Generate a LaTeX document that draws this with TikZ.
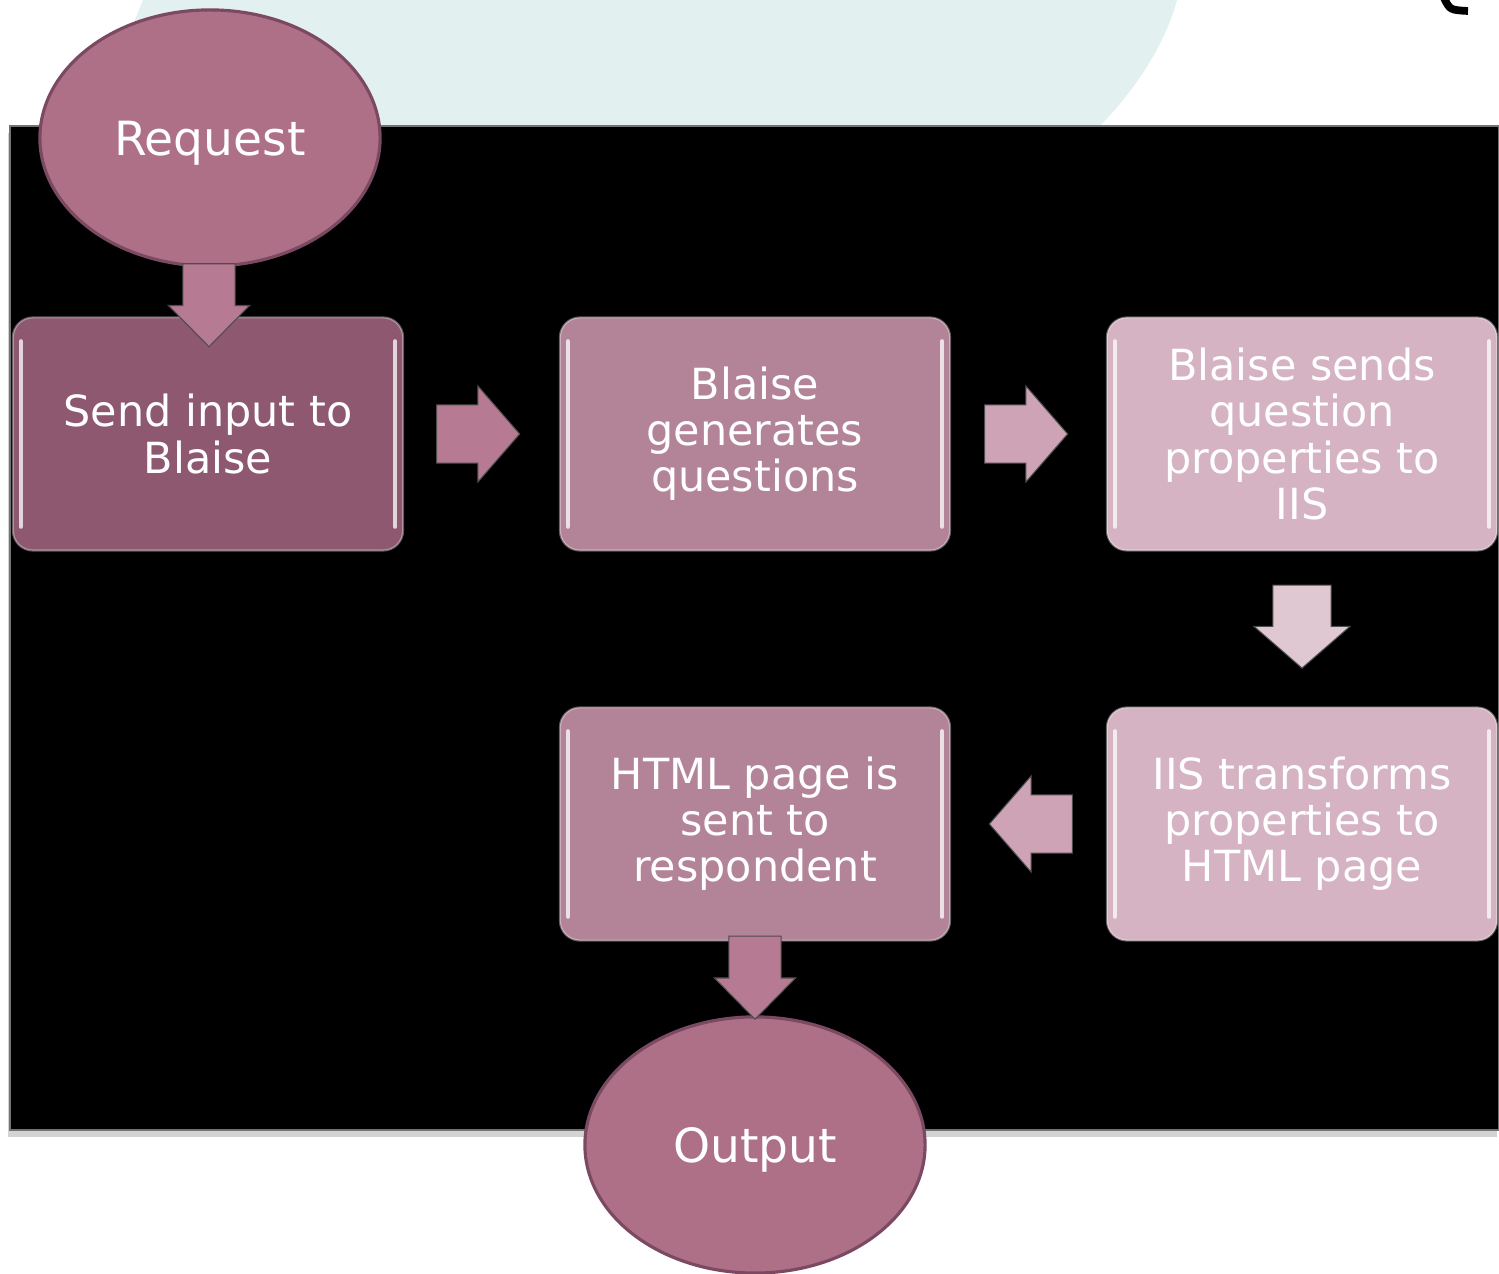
\documentclass[tikz,border=0pt]{standalone}
\usepackage{fontspec}
\setmainfont{DejaVu Sans}
\usetikzlibrary{shapes.geometric}
\usetikzlibrary{shapes.arrows}
\usetikzlibrary{shadows}
\usetikzlibrary{calc}
\definecolor{tealbg}{HTML}{E3F0F0}
\definecolor{mauve}{HTML}{AE7087}
\definecolor{mauveline}{HTML}{7B4A62}
\definecolor{boxdark}{HTML}{8E5870}
\definecolor{boxmid}{HTML}{B38497}
\definecolor{boxlight}{HTML}{D5B3C2}
\definecolor{arrowdark}{HTML}{B67A93}
\definecolor{arrowmid}{HTML}{CEA3B5}
\definecolor{arrowlight}{HTML}{E0C8D2}
\tikzset{
	flownode/.style = {
		align=center,
		inner sep=0pt,
		text centered,
		text=white
	},
	node_end/.style = {
		flownode,
		ellipse,
		fill=mauve,
		draw=mauveline,
		line width=0.9pt,
		font=\fontsize{13.4}{15}\selectfont,
		text depth=0pt,
		minimum width=3.4cm,
		minimum height=2.56cm
	},
	node_step/.style = {
		flownode,
		rectangle,
		rounded corners=0.2cm,
		draw=white,
		draw opacity=0.35,
		line width=0.6pt,
		font=\fontsize{12.2}{13.1}\selectfont,
		minimum width=3.9cm,
		minimum height=2.33cm,
		path picture={
			\draw[white, opacity=0.75, line width=1.3pt, line cap=round]
				([xshift=0.08cm, yshift=-0.24cm]path picture bounding box.north west) -- ([xshift=0.08cm, yshift=0.24cm]path picture bounding box.south west)
				([xshift=-0.08cm, yshift=-0.24cm]path picture bounding box.north east) -- ([xshift=-0.08cm, yshift=0.24cm]path picture bounding box.south east);
		}
	},
	node_step_dark/.style = {
		node_step,
		fill=boxdark
	},
	node_step_mid/.style = {
		node_step,
		fill=boxmid
	},
	node_step_light/.style = {
		node_step,
		fill=boxlight
	},
	node_arrow/.style = {
		single arrow,
		inner xsep=0pt,
		inner ysep=0.285cm,
		minimum width=0pt,
		minimum height=0.83cm,
		single arrow head extend=0.19cm,
		single arrow tip angle=98,
		draw=black!70,
		line width=0.3pt
	},
	node_arrow_small/.style = {
		node_arrow,
		inner ysep=0.255cm,
		single arrow head extend=0.145cm,
		single arrow tip angle=89
	},
}

\begin{document}
\begin{tikzpicture}[x=0.01cm, y=-0.01cm]
\useasboundingbox (0,0) rectangle (1499,1274);

% slide background
\fill[tealbg] (143,0) -- (1177,0) .. controls (1165,45) and (1135,90) .. (1100,126) -- (100,126) .. controls (115,70) .. (143,0);
\draw[line width=2.2pt] (1444,-2) .. controls (1450,10) .. (1468,11);
\fill[black, draw=black!55, drop shadow={shadow xshift=-0.02cm, shadow yshift=-0.07cm, opacity=0.35}] (10,126) rectangle (1499,1130);

% start and end
\node [node_end] (request) at (210,138) {Request};
\node [node_end] (output) at (755,1145) {Output};

% steps
\node [node_step_dark] (send) at (208,434) {Send input to\\Blaise};
\node [node_step_mid] (generate) at (755,434) {Blaise\\generates\\questions};
\node [node_step_light] (properties) at (1302,434) {Blaise sends\\question\\properties to\\IIS};
\node [node_step_light] (transform) at (1302,824) {IIS transforms\\properties to\\HTML page};
\node [node_step_mid] (html) at (755,824) {HTML page is\\sent to\\respondent};

% arrows
\node [node_arrow_small, fill=arrowdark, rotate=-90] (a_request) at ($(request.south)!0.5!(send.north)$) {};
\node [node_arrow, fill=arrowdark] (a_send) at ($(send.east)!0.5!(generate.west)+(-16,0)$) {};
\node [node_arrow, fill=arrowmid] (a_generate) at ($(generate.east)!0.5!(properties.west)+(-15,0)$) {};
\node [node_arrow, fill=arrowlight, rotate=-90] (a_properties) at ($(properties.south)!0.5!(transform.north)+(0,-15)$) {};
\node [node_arrow, fill=arrowmid, rotate=180] (a_transform) at ($(transform.west)!0.5!(html.east)+(15,0)$) {};
\node [node_arrow_small, fill=arrowdark, rotate=-90] (a_html) at ($(html.south)!0.5!(output.north)+(0,-14)$) {};
\end{tikzpicture}
\end{document}
